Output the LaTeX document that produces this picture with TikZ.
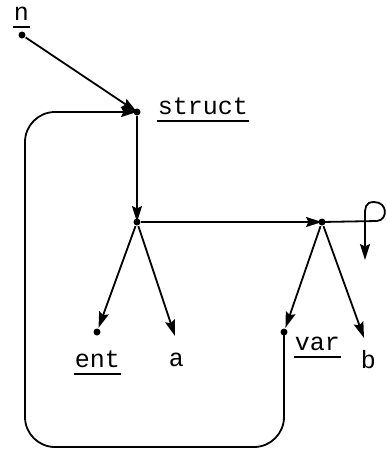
\documentclass[tikz,border=0pt]{standalone}
\usepackage{fontspec}
\setmonofont{Liberation Mono}
\usetikzlibrary{arrows.meta}
\begin{document}
\begin{tikzpicture}[x=1pt,y=-1pt,
  line width=1.8pt,
  arr/.style={-{Stealth[length=16pt,width=10pt,inset=2.5pt]}},
  pt/.style={circle,fill,inner sep=0pt,minimum size=7pt},
  lbl/.style={font=\ttfamily\fontsize{25}{25}\selectfont,inner sep=0pt,anchor=base west},
  uline/.style={line width=1.3pt}]
\useasboundingbox (0,0) rectangle (387,451);

% junction points
\node[pt] (ndot) at (22,35) {};
\node[pt] (snode) at (137,112) {};
\node[pt] (mnode) at (137,222) {};
\node[pt] (rnode) at (322,222) {};
\node[pt] (entdot) at (97,332) {};
\node[pt] (vardot) at (284,332) {};
\coordinate (atip) at (175,336);
\coordinate (btip) at (364,338);

% labels
\node[lbl] (nlab) at (13,20) {n};
\node[lbl] (slab) at (157,114) {struct};
\node[lbl] (elab) at (74,367) {ent};
\node[lbl] (alab) at (168,366) {a};
\node[lbl] (vlab) at (294,350) {var};
\node[lbl] (blab) at (360,368) {b};
\foreach \l in {nlab,slab,elab,vlab}
  \draw[uline] ([yshift=-7pt]\l.base west) -- ([yshift=-7pt]\l.base east);

% pointers
\draw[arr] (ndot) -- (snode.center);
\draw[arr] (snode) -- (mnode.center);
\draw[arr] (mnode) -- (rnode.center);
\draw[arr] (mnode) -- (entdot);
\draw[arr] (mnode) -- (atip);
\draw[arr] (rnode) -- (vardot);
\draw[arr] (rnode) -- (btip);

% back pointer from var to struct
\coordinate (c1) at (284,447);
\coordinate (c2) at (25,447);
\coordinate (c3) at (25,112);
\draw[arr,rounded corners=30pt] (vardot.center) -- (c1) -- (c2) -- (c3) -- (snode.center);

% self loop on the right
\coordinate (ltip) at (365,260);
\draw[arr] (rnode.center) -- (377,221)
  .. controls (388,220) and (388,202) .. (374,202)
  .. controls (365,202) and (365,208) .. (365,216) -- (ltip);
\end{tikzpicture}
\end{document}
